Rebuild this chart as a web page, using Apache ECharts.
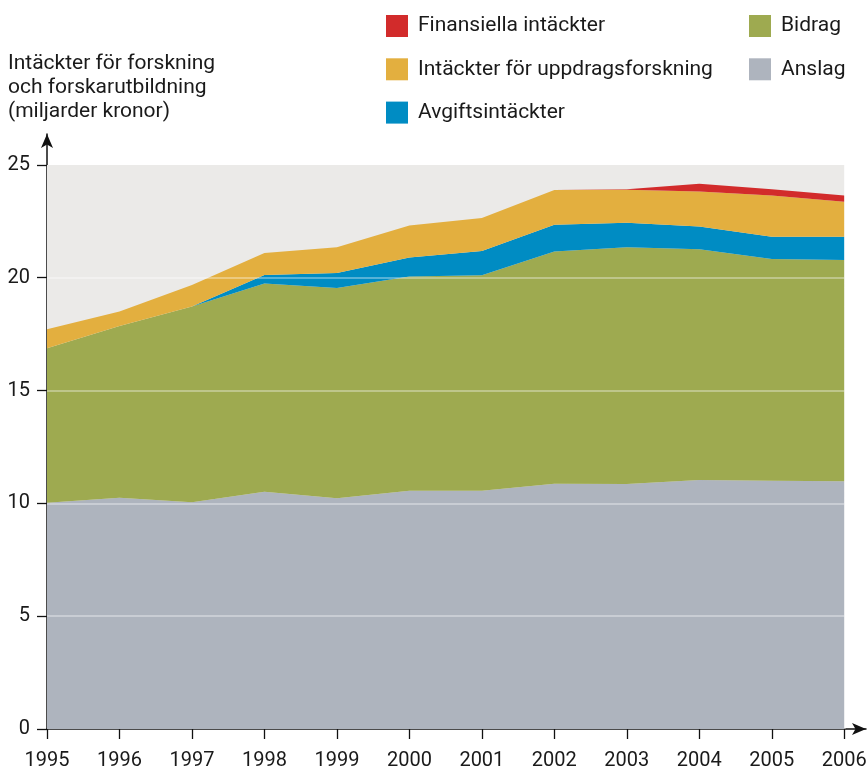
<!DOCTYPE html>
<html>
<head>
<meta charset="utf-8">
<script src="https://cdn.jsdelivr.net/npm/echarts@6/dist/echarts.min.js"></script>
<style>html,body{margin:0;padding:0;background:#fff}#c{width:867px;height:771px}</style>
</head>
<body>
<div id="c"></div>
<script>
const years = [1995,1996,1997,1998,1999,2000,2001,2002,2003,2004,2005,2006];
const anslag      = [10.03,10.25,10.05,10.52,10.23,10.56,10.56,10.87,10.86,11.04,11.00,10.98];
const bidrag      = [6.84,7.61,8.67,9.22,9.32,9.49,9.55,10.29,10.49,10.22,9.83,9.81];
const avgift      = [0,0,0,0.38,0.66,0.85,1.08,1.19,1.09,1.01,0.99,1.03];
const uppdrag     = [0.85,0.64,0.96,0.98,1.14,1.41,1.46,1.54,1.46,1.55,1.82,1.55];
const finansiella = [0,0,0,0,0,0,0,0,0.02,0.35,0.28,0.27];
const yTicks = [0,5,10,15,20,25];
const gridValues = [5,10,15,20];
const names = ['Finansiella intäckter','Intäckter för uppdragsforskning','Avgiftsintäckter','Bidrag','Anslag'];
const colors = {anslag:'#AEB4BE', bidrag:'#9EAA50', avgift:'#008CC3', uppdrag:'#E3AF3F', fin:'#D22B2B'};
const titleText = 'Intäckter för forskning\noch forskarutbildning\n(miljarder kronor)';

const FONT = "Roboto, sans-serif";
const TXT = '#1a1a1a';
// data as [value, year]; encode maps x to column 1 so stacking happens on the value column
const pairs = arr => years.map((y,i)=>[arr[i], y]);
function areaSeries(name, arr, color){
  return {name, type:'line', stack:'total', data:pairs(arr), encode:{x:1, y:0}, symbol:'none', smooth:false,
    lineStyle:{width:0}, areaStyle:{color, opacity:1}, itemStyle:{color}, z:3, silent:true};
}
const legendText = {fontFamily:FONT, fontSize:21, color:TXT, lineHeight:22, padding:[0,0,0,5]};
const chart = echarts.init(document.getElementById('c'), null, {renderer:'canvas'});
chart.setOption({
  animation:false,
  textStyle:{fontFamily:FONT},
  title:{text:titleText, left:8, top:52, padding:0, textStyle:{fontFamily:FONT, fontSize:21, fontWeight:'normal', color:TXT, lineHeight:24}},
  legend:[
    {left:386, top:15, padding:0, orient:'vertical', itemWidth:22, itemHeight:22, itemGap:21.3, icon:'rect',
     data:[names[0],names[1],names[2]], textStyle:legendText, selectedMode:false},
    {left:749, top:15, padding:0, orient:'vertical', itemWidth:22, itemHeight:22, itemGap:21.3, icon:'rect',
     data:[names[3],names[4]], textStyle:legendText, selectedMode:false}
  ],
  grid:{left:47, right:1, top:134, bottom:42, containLabel:false, outerBoundsMode:'none'},
  xAxis:{type:'value', min:1995, max:2006.3,
    axisLine:{show:true, lineStyle:{color:'#111', width:1.5}, symbol:['none','arrow'], symbolSize:[9,14]},
    axisTick:{show:true, customValues:years, length:10, inside:false, lineStyle:{color:'#111', width:1.3}},
    axisLabel:{customValues:years, formatter:v=>String(v), fontFamily:FONT, fontSize:20, color:TXT, margin:22},
    splitLine:{show:false}},
  yAxis:{type:'value', min:0, max:26.37,
    axisLine:{show:true, lineStyle:{color:'#111', width:1.5}, symbol:['none','arrow'], symbolSize:[9,14]},
    axisTick:{show:true, customValues:yTicks, length:10, lineStyle:{color:'#111', width:1.3}},
    axisLabel:{customValues:yTicks, fontFamily:FONT, fontSize:20, color:TXT, margin:17},
    splitLine:{show:false}},
  series:[
    {name:'bg', type:'line', data:[], z:1, silent:true,
     markArea:{silent:true, itemStyle:{color:'#EBEAE8'}, data:[[{coord:[years[0],0]},{coord:[years[years.length-1],yTicks[yTicks.length-1]]}]]}},
    areaSeries(names[4], anslag, colors.anslag),
    areaSeries(names[3], bidrag, colors.bidrag),
    areaSeries(names[2], avgift, colors.avgift),
    areaSeries(names[1], uppdrag, colors.uppdrag),
    areaSeries(names[0], finansiella, colors.fin),
    {name:'grid', type:'line', data:[], z:10, silent:true,
     markLine:{silent:true, symbol:['none','none'], label:{show:false},
       lineStyle:{color:'rgba(255,255,255,0.45)', width:1.5, type:'solid'},
       data:gridValues.map(v=>[{coord:[years[0],v]},{coord:[years[years.length-1],v]}])
         .concat([[{coord:[years[years.length-1],0]},{coord:[years[years.length-1],yTicks[yTicks.length-1]]}]])}}
  ]
});
</script>
</body>
</html>
